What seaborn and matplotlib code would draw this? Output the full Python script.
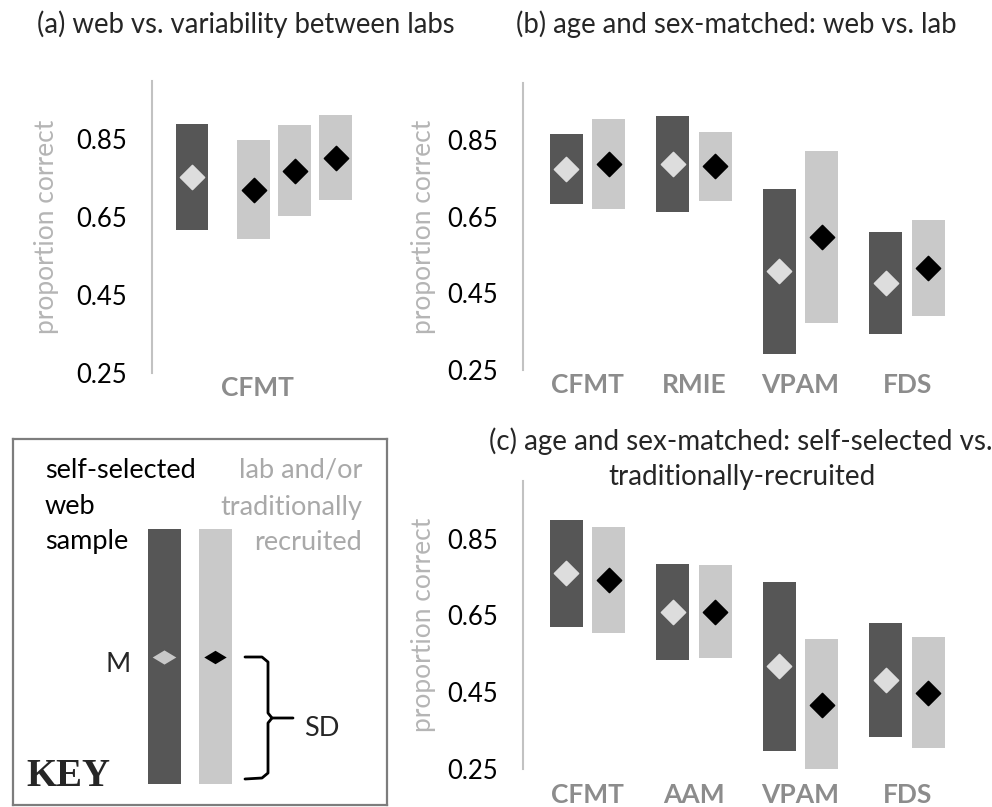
import numpy as np
import seaborn as sns
import matplotlib.pyplot as plt

# (a) CFMT: self-selected web sample vs three lab samples
a_groups = ["web", "lab 1", "lab 2", "lab 3"]
a_mean = [0.753, 0.721, 0.769, 0.803]
a_sd = [0.136, 0.127, 0.117, 0.109]

# (b) age and sex-matched: web vs. lab
b_tests = ["CFMT", "RMIE", "VPAM", "FDS"]
b_web_mean = [0.775, 0.788, 0.508, 0.477]
b_web_sd = [0.091, 0.125, 0.215, 0.134]
b_lab_mean = [0.788, 0.782, 0.597, 0.516]
b_lab_sd = [0.117, 0.091, 0.225, 0.126]

# (c) age and sex-matched: self-selected vs. traditionally-recruited
c_tests = ["CFMT", "AAM", "VPAM", "FDS"]
c_web_mean = [0.760, 0.659, 0.518, 0.481]
c_web_sd = [0.139, 0.126, 0.220, 0.148]
c_lab_mean = [0.742, 0.660, 0.416, 0.449]
c_lab_sd = [0.137, 0.122, 0.172, 0.144]

y_ticks = [0.25, 0.45, 0.65, 0.85]

DARK, LIGHT = "#565656", "#c9c9c9"
MARK_LIGHT, MARK_DARK = "#dddddd", "black"
AXIS_GREY, YLAB_GREY, XLAB_GREY = "#c2c2c2", "#b5b5b5", "#8c8c8c"

sns.set_style("white")
plt.rcParams["font.family"] = ["Lato", "DejaVu Sans"]

fig = plt.figure(figsize=(9.92, 8.07), dpi=100)
W, H = 992, 807


def px_axes(left, top, right, bottom):
    return fig.add_axes([left / W, 1 - bottom / H, (right - left) / W, (bottom - top) / H])


def sd_bars(ax, pos, mean, sd, bar_col, mark_col, width):
    mean, sd = np.asarray(mean), np.asarray(sd)
    sns.barplot(x=pos, y=2 * sd, bottom=mean - sd, native_scale=True, orient="x",
                width=width, color=bar_col, saturation=1, errorbar=None,
                linewidth=0, ax=ax, zorder=2)
    sns.scatterplot(x=pos, y=mean, marker="D", s=150, color=mark_col, edgecolor=mark_col,
                    linewidth=1.2, ax=ax, zorder=3, legend=False)


def style_axes(ax, xlim, ticks, labels, ylab_x, xpad):
    ax.set_xlim(*xlim)
    ax.set_ylim(0.25, 1.0)
    ax.set_yticks(y_ticks, [f"{v:.2f}" for v in y_ticks])
    ax.set_xticks(ticks, labels)
    sns.despine(ax=ax, bottom=True)
    ax.spines["left"].set_color(AXIS_GREY)
    ax.spines["left"].set_linewidth(1.5)
    ax.tick_params(axis="y", length=6, width=1.3, color=AXIS_GREY, pad=12,
                   labelsize=18.5, labelcolor="black")
    ax.tick_params(axis="x", length=0, pad=xpad, labelsize=19, labelcolor=XLAB_GREY)
    for t in ax.get_xticklabels():
        t.set_fontweight("bold")
    ax.set_xlabel("")
    ax.set_ylabel("proportion correct", fontsize=19, color=YLAB_GREY)
    ax.yaxis.set_label_coords(ylab_x, 0.5)
    ax.patch.set_alpha(0)


# panel (a)
ax_a = px_axes(152, 81, 362, 373)
a_pos = [0.0, 1.5, 2.5, 3.5]
sd_bars(ax_a, a_pos[:1], a_mean[:1], a_sd[:1], DARK, MARK_LIGHT, 0.8)
sd_bars(ax_a, a_pos[1:], a_mean[1:], a_sd[1:], LIGHT, MARK_DARK, 0.8)
a_xlim = (-0.976, 4.146)
style_axes(ax_a, a_xlim, [np.mean(a_xlim)], ["CFMT"], -93 / 210, 2)

# panels (b) and (c)
for box, tests, wm, ws, lm, ls, xpad in [
        ((523, 83, 971, 370), b_tests, b_web_mean, b_web_sd, b_lab_mean, b_lab_sd, 2),
        ((523, 481, 971, 769), c_tests, c_web_mean, c_web_sd, c_lab_mean, c_lab_sd, 10)]:
    ax = px_axes(*box)
    idx = np.arange(len(tests))
    sd_bars(ax, idx - 0.2, wm, ws, DARK, MARK_LIGHT, 0.31)
    sd_bars(ax, idx + 0.2, lm, ls, LIGHT, MARK_DARK, 0.31)
    style_axes(ax, (-0.606, 3.6), idx, tests, -87 / 448, xpad)

# titles
fig.text(246 / W, 1 - 24 / H, "(a) web vs. variability between labs", ha="center", va="center", fontsize=19.8)
fig.text(736 / W, 1 - 24 / H, "(b) age and sex-matched: web vs. lab", ha="center", va="center", fontsize=19.8)
fig.text(741 / W, 1 - 441 / H, "(c) age and sex-matched: self-selected vs.", ha="center", va="center", fontsize=20)
fig.text(742 / W, 1 - 477 / H, "traditionally-recruited", ha="center", va="center", fontsize=20)

# key box (pixel coordinates of the figure)
ax_k = px_axes(13, 439, 387, 805)
ax_k.set_xlim(13, 387)
ax_k.set_ylim(805, 439)
ax_k.set_xticks([])
ax_k.set_yticks([])
for s in ax_k.spines.values():
    s.set_visible(True)
    s.set_color("#7d7d7d")
    s.set_linewidth(1.6)

ax_k.bar([164.5, 215.5], [255, 255], bottom=[529, 529], width=33, color=[DARK, LIGHT], linewidth=0)
flat_diamond = [(-1, 0), (0, 0.6), (1, 0), (0, -0.6), (-1, 0)]
ax_k.scatter([164.5], [657], marker=flat_diamond, s=290, color="#c8c8c8", linewidths=0, zorder=3)
ax_k.scatter([215.5], [657], marker=flat_diamond, s=260, color="black", linewidths=0, zorder=3)

for y, t in zip([470, 507, 542], ["self-selected", "web", "sample"]):
    ax_k.text(45, y, t, ha="left", va="center", fontsize=19.5, color="black")
for y, t in zip([470, 507, 542], ["lab and/or", "traditionally", "recruited"]):
    ax_k.text(362, y, t, ha="right", va="center", fontsize=19.5, color="#a9a9a9")
ax_k.text(118, 665, "M", ha="center", va="center", fontsize=19.5)
ax_k.text(322, 728, "SD", ha="center", va="center", fontsize=19.5)
ax_k.text(26, 777, "KEY", ha="left", va="center", fontsize=28, fontweight="bold",
          family="Liberation Serif")

# curly bracket for SD
ax_k.plot([245, 262, 268, 268, 272, 293], [657, 657, 662, 713, 718, 718],
          color="black", lw=2, solid_joinstyle="round", solid_capstyle="round")
ax_k.plot([272, 268, 268, 262, 245], [718, 723, 773, 778, 779],
          color="black", lw=2, solid_joinstyle="round", solid_capstyle="round")

fig.savefig("out.png", dpi=100)
